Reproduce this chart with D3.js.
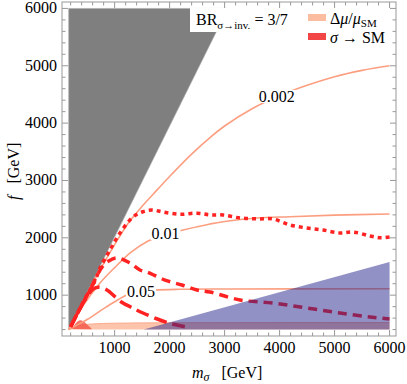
<!DOCTYPE html>
<html>
<meta charset="utf-8">
<style type="text/css">
  body { margin: 0; background: #fff; }
  svg text { font-family: "Liberation Serif", "Times New Roman", Times, serif; fill: #000; }
</style>
<body>
<script src="https://d3js.org/d3.v7.min.js"></script>
<div id="chart"></div>
<script>
  // ---- data: [m_sigma, f] in GeV ----
  const excludedGray = [[165, 400], [165, 6000], [3060, 6000]];
  const excludedBlue = [[1530, 400], [6000, 1580], [6000, 400]];
  const bandTop = [[165, 400], [250, 440], [400, 478], [600, 498], [1000, 511], [2000, 519], [4000, 522], [6000, 523]];
  const redBlob = [[230, 410], [285, 500], [360, 560], [430, 545], [520, 470], [590, 405]];

  const contour002 = [[165, 400], [400, 840], [700, 1380], [1000, 1880], [1250, 2260], [1500, 2550], [1700, 2760],
    [2000, 3070], [2400, 3460], [2750, 3760], [3000, 3950], [3500, 4250], [4000, 4480], [4500, 4660], [5000, 4810],
    [5500, 4920], [6000, 5000]];
  const contour01 = [[165, 400], [400, 780], [734, 1212], [1000, 1480], [1300, 1750], [1600, 1940], [1900, 2060],
    [2189, 2125], [2735, 2241], [2971, 2281], [3589, 2346], [4190, 2368], [5000, 2395], [6000, 2415]];
  const contour05 = [[165, 400], [300, 470], [500, 575], [800, 765], [1000, 885], [1225, 1003], [1450, 1060],
    [1735, 1090], [2200, 1103], [3000, 1108], [6000, 1112]];

  const smDotted = [[200, 450], [450, 920], [643, 1250], [734, 1470], [916, 1788], [1098, 2084], [1334, 2363],
    [1500, 2450], [1680, 2485], [1880, 2450], [2189, 2410], [2498, 2430], [2735, 2400], [2971, 2398], [3280, 2346],
    [3600, 2330], [3880, 2328], [4190, 2224], [4498, 2171], [4790, 2136], [5099, 2084], [5335, 2101], [5644, 2032],
    [5850, 2000], [6000, 2014]];
  const smDashed = [[200, 450], [500, 1000], [780, 1500], [900, 1600], [1043, 1648], [1280, 1560], [1461, 1439],
    [1589, 1404], [1916, 1264], [2225, 1177], [2498, 1090], [2735, 1055], [3280, 916], [3880, 863], [4498, 776],
    [5099, 689], [5644, 619], [6000, 584]];
  const smLongDashed = [[200, 450], [450, 900], [600, 1100], [700, 1140], [861, 1090], [1000, 980], [1152, 863],
    [1300, 790], [1516, 689], [1789, 580], [2000, 510], [2134, 480], [2371, 430]];

  const contourLabels = [["0.002", 3950], ["0.01", 1925], ["0.05", 1480]];
  const xTicks = [1000, 2000, 3000, 4000, 5000, 6000];
  const yTicks = [1000, 2000, 3000, 4000, 5000, 6000];

  const width = 407, height = 384;
  const svg = d3.select("#chart").append("svg")
    .attr("width", width)
    .attr("height", height)
    .attr("font-family", "'Liberation Serif', 'Times New Roman', serif");

  const x = d3.scaleLinear().domain([43, 6117]).range([62, 396]);
  const y = d3.scaleLinear().domain([288, 6112]).range([336, 2]);

  svg.append("clipPath").attr("id", "plot")
    .append("rect").attr("x", 62).attr("y", 2).attr("width", 334).attr("height", 334);

  const g = svg.append("g").attr("clip-path", "url(#plot)");

  const line = d3.line().x(d => x(d[0])).y(d => y(d[1])).curve(d3.curveCatmullRom.alpha(0.5));
  const poly = pts => "M" + pts.map(d => x(d[0]) + "," + y(d[1])).join("L") + "Z";

  // gray excluded wedge
  g.append("path").attr("d", poly(excludedGray))
    .attr("fill", "#7f7f7f").attr("stroke", "#aaa").attr("stroke-width", 0.6);

  // pink band near the bottom
  g.append("path")
    .attr("d", d3.area().x(d => x(d[0])).y0(y(400)).y1(d => y(d[1])).curve(d3.curveMonotoneX)(bandTop))
    .attr("fill", "#fcc4ab");
  g.append("path").attr("d", d3.line().x(d => x(d[0])).y(d => y(d[1])).curve(d3.curveMonotoneX)(bandTop))
    .attr("fill", "none").attr("stroke", "#fba98c").attr("stroke-width", 1);

  // small red region near origin
  g.append("path").attr("d", d3.line().x(d => x(d[0])).y(d => y(d[1])).curve(d3.curveCatmullRom)(redBlob) + "Z")
    .attr("fill", "#f45a4a").attr("opacity", 0.85);

  // delta mu contours
  [contour002, contour01, contour05].forEach(c => {
    g.append("path").attr("d", line(c))
      .attr("fill", "none").attr("stroke", "#fc9f80").attr("stroke-width", 1.6);
  });

  // sigma -> SM contours
  [[smDotted, "4,4"], [smDashed, "9,6"], [smLongDashed, "13,6"]].forEach(([c, dash]) => {
    g.append("path").attr("d", line(c))
      .attr("fill", "none").attr("stroke", "#f22")
      .attr("stroke-width", 3.5).attr("stroke-dasharray", dash);
  });
  // solid overlap along the gray edge
  g.append("path").attr("d", line([[200, 450], [450, 910], [640, 1240]]))
    .attr("fill", "none").attr("stroke", "#f22").attr("stroke-width", 3);

  // blue excluded region, drawn on top
  g.append("path").attr("d", poly(excludedBlue))
    .attr("fill", "#24248c").attr("fill-opacity", 0.5);

  // contour labels
  const curves = { "0.002": contour002, "0.01": contour01, "0.05": contour05 };
  contourLabels.forEach(([lab, m]) => {
    const c = curves[lab];
    const i = d3.bisector(d => d[0]).left(c, m);
    const a = c[i - 1], b = c[i];
    const f = a[1] + (b[1] - a[1]) * (m - a[0]) / (b[0] - a[0]);
    const t = svg.append("text").attr("x", x(m)).attr("y", y(f) + 5)
      .attr("text-anchor", "middle").attr("font-size", 16).text(lab);
    const bb = t.node().getBBox();
    svg.insert("rect", "text").attr("x", bb.x - 1).attr("y", bb.y + 2)
      .attr("width", bb.width + 2).attr("height", bb.height - 4).attr("fill", "#fff");
  });

  // frame and ticks
  const frame = svg.append("g").attr("stroke", "#999").attr("stroke-width", 1);
  frame.append("rect").attr("x", 62).attr("y", 2).attr("width", 334).attr("height", 334).attr("fill", "none");
  d3.range(200, 6001, 200).forEach(v => {
    const major = v % 1000 === 0;
    const len = major ? 6 : 3.5;
    frame.append("line").attr("x1", x(v)).attr("x2", x(v)).attr("y1", 336).attr("y2", 336 - len);
    frame.append("line").attr("x1", x(v)).attr("x2", x(v)).attr("y1", 2).attr("y2", 2 + len);
    if (v >= 400) {
      frame.append("line").attr("y1", y(v)).attr("y2", y(v)).attr("x1", 62).attr("x2", 62 + len);
      frame.append("line").attr("y1", y(v)).attr("y2", y(v)).attr("x1", 396).attr("x2", 396 - len);
    }
  });

  svg.selectAll(".xt").data(xTicks).enter().append("text")
    .attr("x", d => x(d)).attr("y", 353).attr("text-anchor", "middle").attr("font-size", 16).text(d => d);
  svg.selectAll(".yt").data(yTicks).enter().append("text")
    .attr("x", 57).attr("y", d => y(d) + 5).attr("text-anchor", "end").attr("font-size", 16).text(d => d);

  // axis titles
  const xl = svg.append("text").attr("x", 192).attr("y", 378).attr("font-size", 16);
  xl.append("tspan").attr("font-style", "italic").text("m");
  xl.append("tspan").attr("font-style", "italic").attr("font-size", 12).attr("dy", 3).text("σ");
  xl.append("tspan").attr("dy", -3).text("\u2002 [GeV]");

  const yl = svg.append("text").attr("transform", "translate(19,200) rotate(-90)").attr("font-size", 16);
  yl.append("tspan").attr("font-style", "italic").text("f");
  yl.append("tspan").text("\u2002 [GeV]");

  // BR box
  svg.append("rect").attr("x", 190).attr("y", 8).attr("width", 116).attr("height", 24).attr("fill", "#fff");
  const br = svg.append("text").attr("x", 196).attr("y", 25).attr("font-size", 16);
  br.append("tspan").text("BR");
  br.append("tspan").attr("font-size", 11).attr("dy", 4).text("σ→inv.");
  br.append("tspan").attr("dy", -4).text(" = 3/7");

  // legend
  svg.append("rect").attr("x", 308).attr("y", 14).attr("width", 18).attr("height", 7).attr("fill", "#fcbca0");
  svg.append("rect").attr("x", 308).attr("y", 33).attr("width", 18).attr("height", 7).attr("fill", "#f24646");
  const l1 = svg.append("text").attr("x", 330).attr("y", 24).attr("font-size", 16);
  l1.append("tspan").text("Δ");
  l1.append("tspan").attr("font-style", "italic").text("μ");
  l1.append("tspan").text("/");
  l1.append("tspan").attr("font-style", "italic").text("μ");
  l1.append("tspan").attr("font-size", 11).attr("dy", 3).text("SM");
  const l2 = svg.append("text").attr("x", 330).attr("y", 43).attr("font-size", 16);
  l2.append("tspan").attr("font-style", "italic").text("σ");
  l2.append("tspan").text(" → SM");
</script>
</body>
</html>
